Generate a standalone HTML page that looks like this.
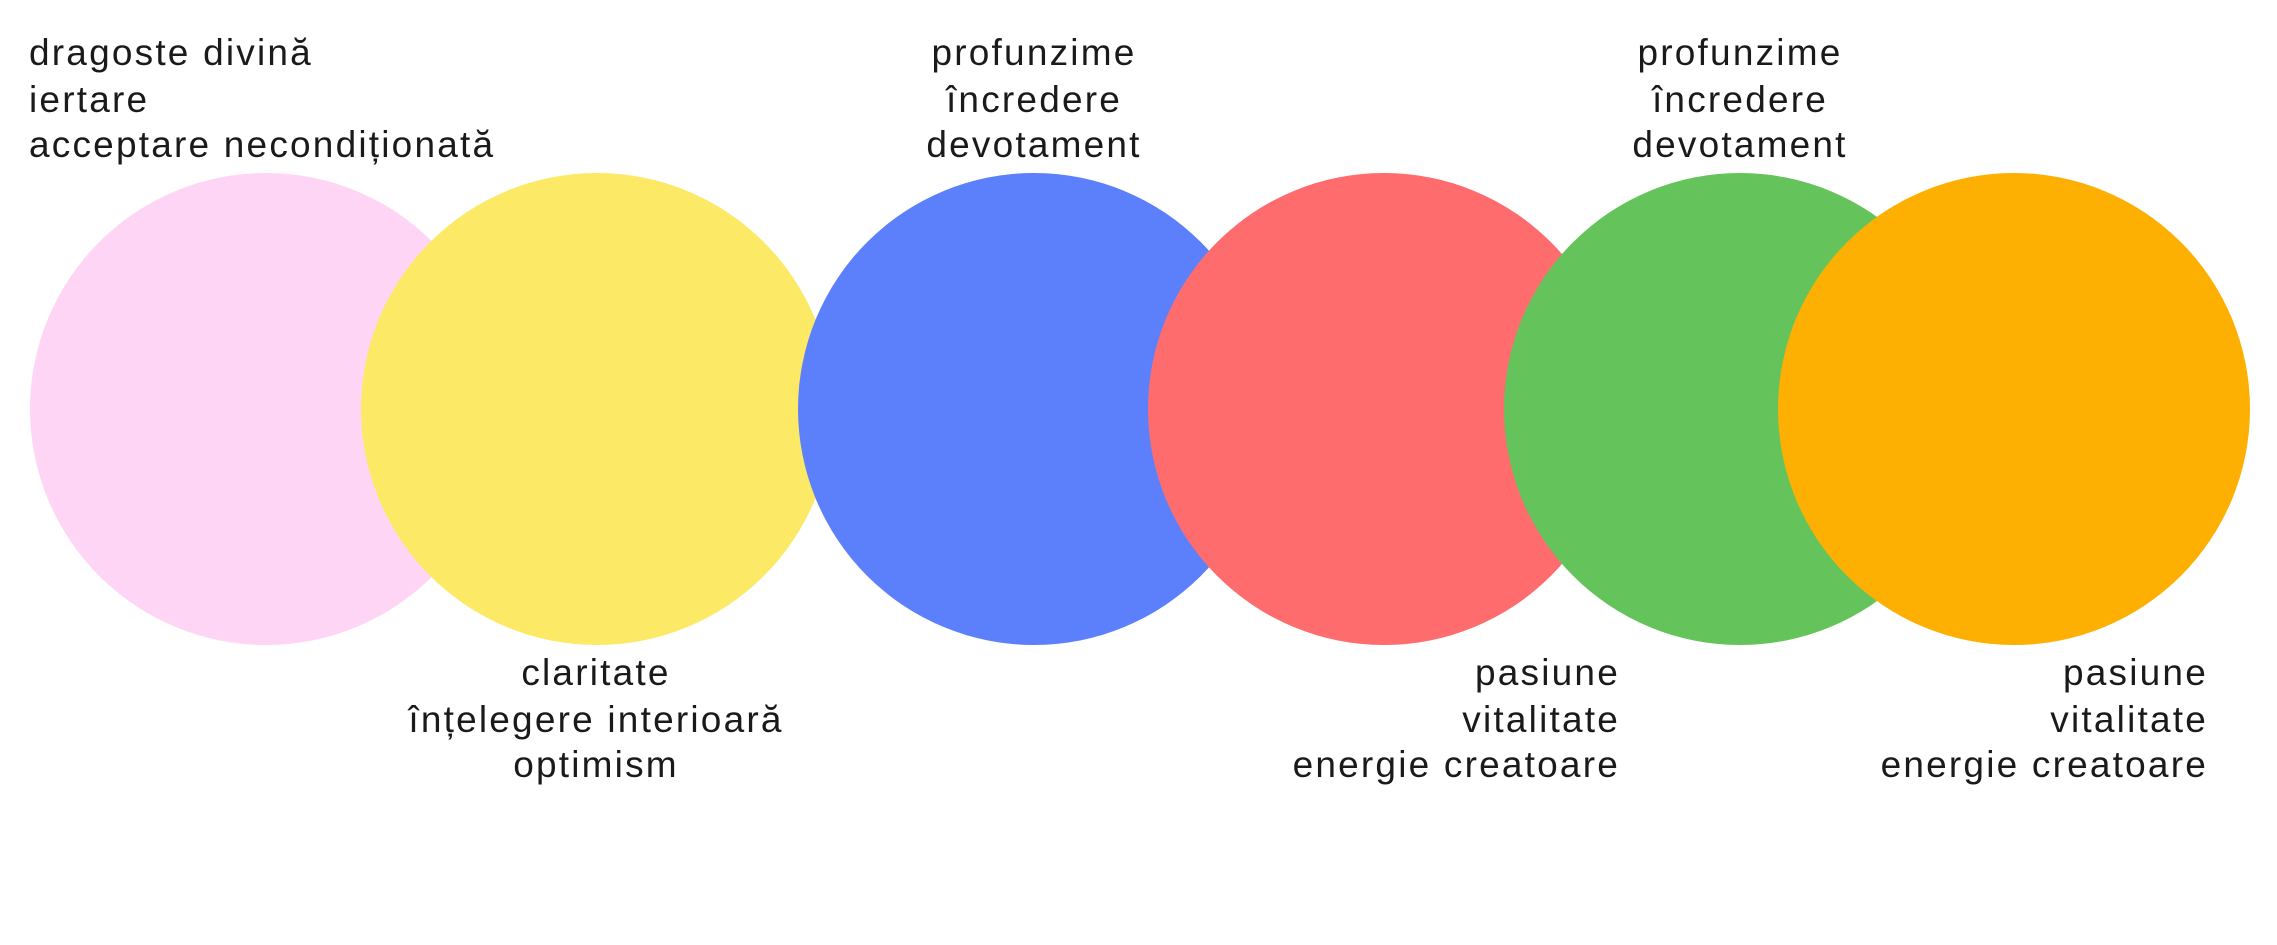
<!DOCTYPE html>
<html><head><meta charset="utf-8"><style>
html,body{margin:0;padding:0;background:#fff;}
body{width:2277px;height:940px;overflow:hidden;}
svg text{font-family:"Liberation Sans",sans-serif;font-size:37px;fill:#1a1a1a;letter-spacing:2.2px;}
</style></head><body>
<svg width="2277" height="940" xmlns="http://www.w3.org/2000/svg">
<circle cx="266" cy="409" r="236" fill="#ffd5f6"/>
<circle cx="597" cy="409" r="236" fill="#fce966"/>
<circle cx="1034" cy="409" r="236" fill="#5c80fc"/>
<circle cx="1384" cy="409" r="236" fill="#fe6c6e"/>
<circle cx="1740" cy="409" r="236" fill="#64c45b"/>
<circle cx="2014" cy="409" r="236" fill="#feb002"/>
<text x="29" y="65">dragoste divină</text>
<text x="29" y="112">iertare</text>
<text x="29" y="157">acceptare necondiționată</text>
<g text-anchor="middle">
<text x="1034" y="65">profunzime</text>
<text x="1034" y="112">încredere</text>
<text x="1034" y="157">devotament</text>
<text x="1740" y="65">profunzime</text>
<text x="1740" y="112">încredere</text>
<text x="1740" y="157">devotament</text>
<text x="596" y="685">claritate</text>
<text x="596" y="732">înțelegere interioară</text>
<text x="596" y="777">optimism</text>
</g>
<g text-anchor="end">
<text x="1620" y="685">pasiune</text>
<text x="1620" y="732">vitalitate</text>
<text x="1620" y="777">energie creatoare</text>
<text x="2208" y="685">pasiune</text>
<text x="2208" y="732">vitalitate</text>
<text x="2208" y="777">energie creatoare</text>
</g>
</svg>
</body></html>
